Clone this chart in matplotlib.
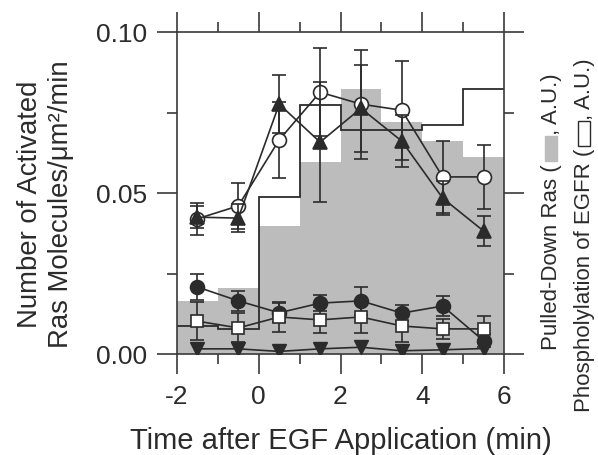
import matplotlib
matplotlib.use("Agg")
import matplotlib.pyplot as plt
from matplotlib.patches import Rectangle
import numpy as np

plt.rcParams['font.family'] = ['Liberation Sans', 'DejaVu Sans']

# ---------------- data ----------------
bin_edges = [-2, -1, 0, 1, 2, 3, 4, 5, 6]
pulled_down_ras = [0.0165, 0.0205, 0.0398, 0.0596, 0.0823, 0.0720, 0.0661, 0.0612]
egfr_phos = [0.0087, 0.0078, 0.0488, 0.0773, 0.0696, 0.0696, 0.0711, 0.0823]

time_pts = [-1.5, -0.5, 0.5, 1.5, 2.5, 3.5, 4.5, 5.5]
open_circle = [0.0420, 0.0460, 0.0665, 0.0813, 0.0776, 0.0757, 0.0550, 0.0550]
open_circle_err = [0.0050, 0.0071, 0.0118, 0.0137, 0.0169, 0.0154, 0.0112, 0.0099]
tri_up = [0.0425, 0.0422, 0.0776, 0.0658, 0.0763, 0.0661, 0.0484, 0.0382]
tri_up_err = [0.0035, 0.0043, 0.0090, 0.0186, 0.0135, 0.0081, 0.0053, 0.0047]
filled_circle = [0.0208, 0.0165, 0.0128, 0.0158, 0.0165, 0.0127, 0.0149, 0.0041]
filled_circle_err = [0.0039, 0.0031, 0.0030, 0.0025, 0.0043, 0.0025, 0.0031, 0.0020]
open_square = [0.0102, 0.0081, 0.0115, 0.0106, 0.0115, 0.0087, 0.0078, 0.0078]
open_square_err = [0.0060, 0.0045, 0.0048, 0.0040, 0.0050, 0.0050, 0.0031, 0.0040]
tri_down = [0.0016, 0.0016, 0.0008, 0.0016, 0.0021, 0.0010, 0.0013, 0.0017]

x_ticks = [-2, 0, 2, 4, 6]
x_ticklabels = ['-2', '0', '2', '4', '6']
y_ticks = [0.00, 0.05, 0.10]
y_ticklabels = ['0.00', '0.05', '0.10']

# ---------------- figure ----------------
W, H = 598, 456
fig = plt.figure(figsize=(W / 100, H / 100), dpi=100)
ax = fig.add_axes([177 / W, (H - 355) / H, (504 - 177) / W, (355 - 33) / H])

dark = '#2b2b2b'
gray = '#bcbcbc'

ax.stairs(pulled_down_ras, bin_edges, fill=True, color=gray, zorder=1)
ax.stairs(egfr_phos, bin_edges, baseline=None, color=dark, linewidth=1.3, zorder=2)

common = dict(color=dark, ecolor=dark, elinewidth=1.2, capsize=5, capthick=1.2,
              linewidth=1.2, markeredgewidth=1.2)
ax.errorbar(time_pts, open_circle, yerr=open_circle_err, fmt='-o', ms=10,
            mfc='white', mec=dark, zorder=3, **common)
ax.errorbar(time_pts, tri_up, yerr=tri_up_err, fmt='-^', ms=10,
            mfc=dark, mec=dark, zorder=4, **common)
ax.errorbar(time_pts, filled_circle, yerr=filled_circle_err, fmt='-o', ms=10,
            mfc=dark, mec=dark, zorder=3, **common)
ax.errorbar(time_pts, open_square, yerr=open_square_err, fmt='-s', ms=8.5,
            mfc='white', mec=dark, zorder=4, **common)
ax.plot(time_pts, tri_down, '-v', ms=10, color=dark, mfc=dark, mec=dark,
        linewidth=1.2, zorder=5)

ax.set_xlim(-2, 6)
ax.set_ylim(0, 0.10)
ax.set_xticks(x_ticks)
ax.set_xticklabels(x_ticklabels)
ax.set_xticks([-1, 1, 3, 5], minor=True)
ax.set_yticks(y_ticks)
ax.set_yticklabels(y_ticklabels)
ax.set_yticks([0.025, 0.075], minor=True)

for s in ax.spines.values():
    s.set_color('#3a3a3a')
    s.set_linewidth(1.2)
ax.tick_params(which='both', direction='out', top=True, right=True,
               color='#3a3a3a', width=1.2, labelcolor='#2b2b2b')
ax.tick_params(which='major', length=14.5, labelsize=19)
ax.tick_params(which='minor', length=7.5)
ax.tick_params(axis='y', which='major', pad=7)
ax.tick_params(axis='x', which='major', pad=7)

# axis labels
fig.text(341 / W, (H - 449) / H, 'Time after EGF Application (min)',
         ha='center', va='baseline', fontsize=21, color='#2b2b2b')
fig.text(37 / W, (H - 204) / H, 'Number of Activated', rotation=90,
         rotation_mode='anchor', ha='center', va='baseline', fontsize=19.8,
         color='#2b2b2b')
fig.text(68 / W, (H - 204) / H, 'Ras Molecules/μm²/min', rotation=90,
         rotation_mode='anchor', ha='center', va='baseline', fontsize=19.8,
         color='#2b2b2b')

# right-side rotated labels with inline swatches
renderer = fig.canvas.get_renderer()


def rot_label(x_base, y_start, pieces, fs=16):
    y = H - y_start  # display coords (from bottom)
    for kind, val in pieces:
        if kind == 'text':
            t = fig.text(x_base / W, y / H, val, rotation=90,
                         rotation_mode='anchor', ha='left', va='baseline',
                         fontsize=fs, color='#2b2b2b')
            bb = t.get_window_extent(renderer)
            y = bb.y1
        else:
            L = 25
            r = Rectangle(((x_base - 12) / W, (y + 2) / H), 12 / W, L / H,
                          transform=fig.transFigure, facecolor=val[0],
                          edgecolor=val[1], linewidth=1.0)
            fig.patches.append(r)
            y = y + L + 4


rot_label(557, 350, [('text', 'Pulled-Down Ras ('), ('box', (gray, gray)),
                     ('text', ', A.U.)')])
rot_label(590, 412, [('text', 'Phospholylation of EGFR ('),
                     ('box', ('white', dark)), ('text', ', A.U.)')])

fig.savefig('out.png', dpi=100)
